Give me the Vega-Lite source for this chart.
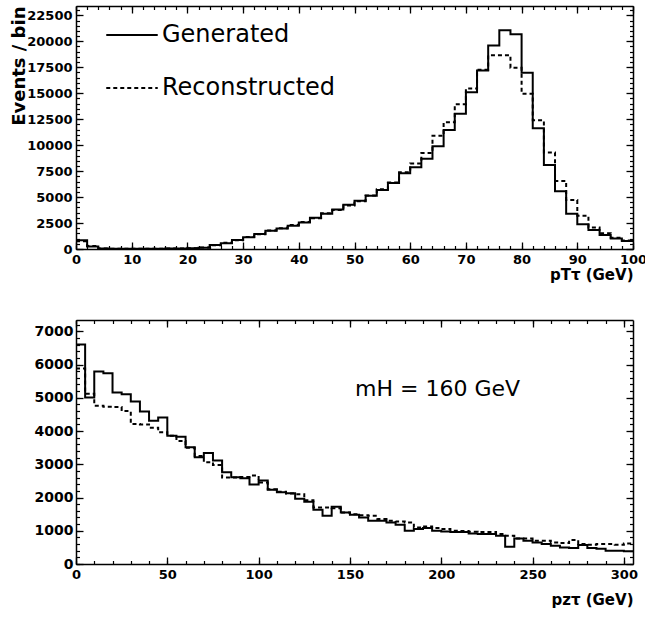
{
  "$schema": "https://vega.github.io/schema/vega-lite/v6.json",
  "padding": {"left": 10, "top": 5, "right": 8, "bottom": 5},
  "config": {"view": {"stroke": null}, "font": "DejaVu Sans", "background": "white"},
  "datasets": {
    "top": [
      {"x":0,"Generated":850,"Reconstructed":750},{"x":2,"Generated":250,"Reconstructed":300},{"x":4,"Generated":40,"Reconstructed":50},{"x":6,"Generated":20,"Reconstructed":25},{"x":8,"Generated":20,"Reconstructed":20},{"x":10,"Generated":20,"Reconstructed":20},{"x":12,"Generated":20,"Reconstructed":20},{"x":14,"Generated":30,"Reconstructed":30},{"x":16,"Generated":40,"Reconstructed":40},{"x":18,"Generated":50,"Reconstructed":60},{"x":20,"Generated":70,"Reconstructed":80},{"x":22,"Generated":120,"Reconstructed":150},{"x":24,"Generated":380,"Reconstructed":350},{"x":26,"Generated":550,"Reconstructed":600},{"x":28,"Generated":870,"Reconstructed":850},{"x":30,"Generated":1120,"Reconstructed":1150},{"x":32,"Generated":1440,"Reconstructed":1420},{"x":34,"Generated":1760,"Reconstructed":1780},{"x":36,"Generated":1980,"Reconstructed":2000},{"x":38,"Generated":2240,"Reconstructed":2300},{"x":40,"Generated":2560,"Reconstructed":2600},{"x":42,"Generated":3000,"Reconstructed":2950},{"x":44,"Generated":3400,"Reconstructed":3450},{"x":46,"Generated":3800,"Reconstructed":3750},{"x":48,"Generated":4250,"Reconstructed":4200},{"x":50,"Generated":4640,"Reconstructed":4600},{"x":52,"Generated":5120,"Reconstructed":5150},{"x":54,"Generated":5670,"Reconstructed":5750},{"x":56,"Generated":6350,"Reconstructed":6400},{"x":58,"Generated":7300,"Reconstructed":7400},{"x":60,"Generated":7880,"Reconstructed":8230},{"x":62,"Generated":8680,"Reconstructed":9250},{"x":64,"Generated":9900,"Reconstructed":10900},{"x":66,"Generated":11450,"Reconstructed":12200},{"x":68,"Generated":13020,"Reconstructed":13950},{"x":70,"Generated":15100,"Reconstructed":15450},{"x":72,"Generated":17200,"Reconstructed":17250},{"x":74,"Generated":19600,"Reconstructed":18650},{"x":76,"Generated":21060,"Reconstructed":18650},{"x":78,"Generated":20670,"Reconstructed":17450},{"x":80,"Generated":16980,"Reconstructed":14950},{"x":82,"Generated":11620,"Reconstructed":12400},{"x":84,"Generated":8100,"Reconstructed":9300},{"x":86,"Generated":5550,"Reconstructed":6550},{"x":88,"Generated":3400,"Reconstructed":4720},{"x":90,"Generated":2380,"Reconstructed":3200},{"x":92,"Generated":1840,"Reconstructed":2080},{"x":94,"Generated":1360,"Reconstructed":1520},{"x":96,"Generated":1020,"Reconstructed":1080},{"x":98,"Generated":760,"Reconstructed":820},{"x":100,"Generated":760,"Reconstructed":820}
    ],
    "bot": [
      {"x":0,"Generated":6600,"Reconstructed":5880},{"x":5,"Generated":5010,"Reconstructed":5120},{"x":10,"Generated":5790,"Reconstructed":4760},{"x":15,"Generated":5740,"Reconstructed":4730},{"x":20,"Generated":5160,"Reconstructed":4720},{"x":25,"Generated":5110,"Reconstructed":4600},{"x":30,"Generated":4890,"Reconstructed":4210},{"x":35,"Generated":4590,"Reconstructed":4200},{"x":40,"Generated":4310,"Reconstructed":4100},{"x":45,"Generated":4410,"Reconstructed":3960},{"x":50,"Generated":3860,"Reconstructed":3860},{"x":55,"Generated":3830,"Reconstructed":3700},{"x":60,"Generated":3510,"Reconstructed":3500},{"x":65,"Generated":3210,"Reconstructed":3250},{"x":70,"Generated":3340,"Reconstructed":3060},{"x":75,"Generated":3110,"Reconstructed":2980},{"x":80,"Generated":2760,"Reconstructed":2600},{"x":85,"Generated":2610,"Reconstructed":2600},{"x":90,"Generated":2580,"Reconstructed":2620},{"x":95,"Generated":2390,"Reconstructed":2660},{"x":100,"Generated":2510,"Reconstructed":2450},{"x":105,"Generated":2230,"Reconstructed":2250},{"x":110,"Generated":2160,"Reconstructed":2170},{"x":115,"Generated":2130,"Reconstructed":2120},{"x":120,"Generated":1960,"Reconstructed":2100},{"x":125,"Generated":1870,"Reconstructed":1920},{"x":130,"Generated":1630,"Reconstructed":1700},{"x":135,"Generated":1450,"Reconstructed":1700},{"x":140,"Generated":1720,"Reconstructed":1680},{"x":145,"Generated":1550,"Reconstructed":1550},{"x":150,"Generated":1480,"Reconstructed":1500},{"x":155,"Generated":1400,"Reconstructed":1470},{"x":160,"Generated":1300,"Reconstructed":1450},{"x":165,"Generated":1300,"Reconstructed":1350},{"x":170,"Generated":1250,"Reconstructed":1300},{"x":175,"Generated":1180,"Reconstructed":1280},{"x":180,"Generated":1000,"Reconstructed":1250},{"x":185,"Generated":1050,"Reconstructed":1100},{"x":190,"Generated":1080,"Reconstructed":1130},{"x":195,"Generated":1000,"Reconstructed":1080},{"x":200,"Generated":980,"Reconstructed":1050},{"x":205,"Generated":960,"Reconstructed":1000},{"x":210,"Generated":960,"Reconstructed":990},{"x":215,"Generated":920,"Reconstructed":970},{"x":220,"Generated":900,"Reconstructed":960},{"x":225,"Generated":900,"Reconstructed":960},{"x":230,"Generated":850,"Reconstructed":900},{"x":235,"Generated":520,"Reconstructed":850},{"x":240,"Generated":770,"Reconstructed":770},{"x":245,"Generated":700,"Reconstructed":770},{"x":250,"Generated":650,"Reconstructed":700},{"x":255,"Generated":600,"Reconstructed":700},{"x":260,"Generated":550,"Reconstructed":650},{"x":265,"Generated":500,"Reconstructed":630},{"x":270,"Generated":480,"Reconstructed":720},{"x":275,"Generated":570,"Reconstructed":600},{"x":280,"Generated":480,"Reconstructed":580},{"x":285,"Generated":460,"Reconstructed":600},{"x":290,"Generated":400,"Reconstructed":600},{"x":295,"Generated":400,"Reconstructed":580},{"x":300,"Generated":380,"Reconstructed":620},{"x":305,"Generated":380,"Reconstructed":620}
    ],
    "empty": []
  },
  "vconcat": [
    {
      "width": 557,
      "height": 243,
      "resolve": {"axis": {"x": "independent", "y": "independent"}},
      "layer": [
        {
          "data": {"name": "top"},
          "transform": [{"fold": ["Generated", "Reconstructed"], "as": ["s", "v"]}],
          "mark": {"type": "line", "interpolate": "step-after", "color": "black", "strokeWidth": 2},
          "encoding": {
            "x": {"field": "x", "type": "quantitative", "scale": {"domain": [0, 100], "nice": false, "zero": false},
              "axis": {"orient": "bottom", "values": [0,10,20,30,40,50,60,70,80,90,100], "ticks": false, "grid": false, "domain": true, "domainColor": "black", "domainWidth": 1.5,
                "labelFont": "DejaVu Sans", "labelFontWeight": "bold", "labelFontSize": 13, "labelColor": "black", "labelPadding": 4, "labelFlush": false, "labelOverlap": false,
                "title": "pTτ (GeV)", "titleFont": "DejaVu Sans", "titleFontSize": 15, "titleFontWeight": "bold", "titleColor": "black", "titleAnchor": "end", "titleAlign": "right", "titleX": 557, "titleY": 30, "titleBaseline": "alphabetic"}},
            "y": {"field": "v", "type": "quantitative", "scale": {"domain": [0, 23400], "nice": false},
              "axis": {"orient": "left", "values": [0,2500,5000,7500,10000,12500,15000,17500,20000,22500], "ticks": false, "grid": false, "domain": true, "domainColor": "black", "domainWidth": 1.5,
                "labelFont": "DejaVu Sans", "labelFontWeight": "bold", "labelFontSize": 13, "labelColor": "black", "labelPadding": 4, "labelFlush": false, "labelOverlap": false, "format": "d",
                "title": "Events / bin", "titleFont": "DejaVu Sans", "titleFontSize": 18, "titleFontWeight": "bold", "titleColor": "black", "titleAngle": 270, "titleAlign": "right", "titleX": -52, "titleY": 0, "titleBaseline": "alphabetic"}},
            "strokeDash": {"field": "s", "type": "nominal", "scale": {"domain": ["Generated", "Reconstructed"], "range": [[1, 0], [4, 3]]},
              "legend": {"orient": "none", "legendX": 29, "legendY": 2, "title": null, "symbolType": "stroke", "symbolSize": 2650, "symbolStrokeWidth": 2, "symbolStrokeColor": "black",
                "labelFont": "DejaVu Sans", "labelFontSize": 24, "labelColor": "black", "labelOffset": 3, "rowPadding": 14, "padding": 0, "labelLimit": 400}}
          }
        },
        {
          "data": {"name": "empty"}, "mark": "rule",
          "encoding": {
            "x": {"field": "x", "type": "quantitative", "axis": {"orient": "bottom", "values": [0,10,20,30,40,50,60,70,80,90,100], "labels": false, "domain": false, "grid": false, "tickSize": -7, "tickColor": "black", "tickWidth": 1.3, "title": null}},
            "y": {"field": "v", "type": "quantitative", "axis": {"orient": "left", "values": [0,2500,5000,7500,10000,12500,15000,17500,20000,22500], "labels": false, "domain": false, "grid": false, "tickSize": -7, "tickColor": "black", "tickWidth": 1.3, "title": null}}
          }
        },
        {
          "data": {"name": "empty"}, "mark": "rule",
          "encoding": {
            "x": {"field": "x", "type": "quantitative", "axis": {"orient": "bottom", "values": [0,2,4,6,8,10,12,14,16,18,20,22,24,26,28,30,32,34,36,38,40,42,44,46,48,50,52,54,56,58,60,62,64,66,68,70,72,74,76,78,80,82,84,86,88,90,92,94,96,98,100], "labels": false, "domain": false, "grid": false, "tickSize": -3.5, "tickColor": "black", "tickWidth": 1.2, "title": null}},
            "y": {"field": "v", "type": "quantitative", "axis": {"orient": "left", "values": [0,500,1000,1500,2000,2500,3000,3500,4000,4500,5000,5500,6000,6500,7000,7500,8000,8500,9000,9500,10000,10500,11000,11500,12000,12500,13000,13500,14000,14500,15000,15500,16000,16500,17000,17500,18000,18500,19000,19500,20000,20500,21000,21500,22000,22500,23000], "labels": false, "domain": false, "grid": false, "tickSize": -3.5, "tickColor": "black", "tickWidth": 1.2, "title": null}}
          }
        },
        {
          "data": {"name": "empty"}, "mark": "rule",
          "encoding": {
            "x": {"field": "x", "type": "quantitative", "axis": {"orient": "top", "values": [0,10,20,30,40,50,60,70,80,90,100], "labels": false, "domain": true, "domainColor": "black", "domainWidth": 1.5, "grid": false, "tickSize": -7, "tickColor": "black", "tickWidth": 1.3, "title": null}},
            "y": {"field": "v", "type": "quantitative", "axis": {"orient": "right", "values": [0,2500,5000,7500,10000,12500,15000,17500,20000,22500], "labels": false, "domain": true, "domainColor": "black", "domainWidth": 1.5, "grid": false, "tickSize": -7, "tickColor": "black", "tickWidth": 1.3, "title": null}}
          }
        },
        {
          "data": {"name": "empty"}, "mark": "rule",
          "encoding": {
            "x": {"field": "x", "type": "quantitative", "axis": {"orient": "top", "values": [0,2,4,6,8,10,12,14,16,18,20,22,24,26,28,30,32,34,36,38,40,42,44,46,48,50,52,54,56,58,60,62,64,66,68,70,72,74,76,78,80,82,84,86,88,90,92,94,96,98,100], "labels": false, "domain": false, "grid": false, "tickSize": -3.5, "tickColor": "black", "tickWidth": 1.2, "title": null}},
            "y": {"field": "v", "type": "quantitative", "axis": {"orient": "right", "values": [0,500,1000,1500,2000,2500,3000,3500,4000,4500,5000,5500,6000,6500,7000,7500,8000,8500,9000,9500,10000,10500,11000,11500,12000,12500,13000,13500,14000,14500,15000,15500,16000,16500,17000,17500,18000,18500,19000,19500,20000,20500,21000,21500,22000,22500,23000], "labels": false, "domain": false, "grid": false, "tickSize": -3.5, "tickColor": "black", "tickWidth": 1.2, "title": null}}
          }
        }
      ]
    },
    {
      "width": 557,
      "height": 244,
      "resolve": {"axis": {"x": "independent", "y": "independent"}},
      "layer": [
        {
          "data": {"name": "bot"},
          "mark": {"type": "line", "interpolate": "step-after", "color": "black", "strokeWidth": 2},
          "encoding": {
            "x": {"field": "x", "type": "quantitative", "scale": {"domain": [0, 305], "nice": false, "zero": false},
              "axis": {"orient": "bottom", "values": [0,50,100,150,200,250,300], "ticks": false, "grid": false, "domain": true, "domainColor": "black", "domainWidth": 1.5,
                "labelFont": "DejaVu Sans", "labelFontWeight": "bold", "labelFontSize": 13, "labelColor": "black", "labelPadding": 4, "labelFlush": false, "labelOverlap": false,
                "title": "pzτ (GeV)", "titleFont": "DejaVu Sans", "titleFontSize": 15, "titleFontWeight": "bold", "titleColor": "black", "titleAnchor": "end", "titleAlign": "right", "titleX": 557, "titleY": 40, "titleBaseline": "alphabetic"}},
            "y": {"field": "Generated", "type": "quantitative", "scale": {"domain": [0, 7340], "nice": false},
              "axis": {"orient": "left", "values": [0,1000,2000,3000,4000,5000,6000,7000], "ticks": false, "grid": false, "domain": true, "domainColor": "black", "domainWidth": 1.5,
                "labelFont": "DejaVu Sans", "labelFontWeight": "bold", "labelFontSize": 14, "labelColor": "black", "labelPadding": 3, "labelFlush": false, "labelOverlap": false, "format": "d", "title": null}}
          }
        },
        {
          "data": {"name": "bot"},
          "mark": {"type": "line", "interpolate": "step-after", "color": "black", "strokeWidth": 2, "strokeDash": [4, 3]},
          "encoding": {
            "x": {"field": "x", "type": "quantitative", "axis": {"orient": "bottom", "values": [0,50,100,150,200,250,300], "labels": false, "domain": false, "grid": false, "tickSize": -7, "tickColor": "black", "tickWidth": 1.3, "title": null}},
            "y": {"field": "Reconstructed", "type": "quantitative", "axis": {"orient": "left", "values": [0,1000,2000,3000,4000,5000,6000,7000], "labels": false, "domain": false, "grid": false, "tickSize": -7, "tickColor": "black", "tickWidth": 1.3, "title": null}}
          }
        },
        {
          "data": {"name": "empty"}, "mark": "rule",
          "encoding": {
            "x": {"field": "x", "type": "quantitative", "axis": {"orient": "bottom", "values": [0,10,20,30,40,50,60,70,80,90,100,110,120,130,140,150,160,170,180,190,200,210,220,230,240,250,260,270,280,290,300], "labels": false, "domain": false, "grid": false, "tickSize": -3.5, "tickColor": "black", "tickWidth": 1.2, "title": null}},
            "y": {"field": "Generated", "type": "quantitative", "axis": {"orient": "left", "values": [0,200,400,600,800,1000,1200,1400,1600,1800,2000,2200,2400,2600,2800,3000,3200,3400,3600,3800,4000,4200,4400,4600,4800,5000,5200,5400,5600,5800,6000,6200,6400,6600,6800,7000,7200], "labels": false, "domain": false, "grid": false, "tickSize": -3.5, "tickColor": "black", "tickWidth": 1.2, "title": null}}
          }
        },
        {
          "data": {"name": "empty"}, "mark": "rule",
          "encoding": {
            "x": {"field": "x", "type": "quantitative", "axis": {"orient": "top", "values": [0,50,100,150,200,250,300], "labels": false, "domain": true, "domainColor": "black", "domainWidth": 1.5, "grid": false, "tickSize": -7, "tickColor": "black", "tickWidth": 1.3, "title": null}},
            "y": {"field": "Generated", "type": "quantitative", "axis": {"orient": "right", "values": [0,1000,2000,3000,4000,5000,6000,7000], "labels": false, "domain": true, "domainColor": "black", "domainWidth": 1.5, "grid": false, "tickSize": -7, "tickColor": "black", "tickWidth": 1.3, "title": null}}
          }
        },
        {
          "data": {"name": "empty"}, "mark": "rule",
          "encoding": {
            "x": {"field": "x", "type": "quantitative", "axis": {"orient": "top", "values": [0,10,20,30,40,50,60,70,80,90,100,110,120,130,140,150,160,170,180,190,200,210,220,230,240,250,260,270,280,290,300], "labels": false, "domain": false, "grid": false, "tickSize": -3.5, "tickColor": "black", "tickWidth": 1.2, "title": null}},
            "y": {"field": "Generated", "type": "quantitative", "axis": {"orient": "right", "values": [0,200,400,600,800,1000,1200,1400,1600,1800,2000,2200,2400,2600,2800,3000,3200,3400,3600,3800,4000,4200,4400,4600,4800,5000,5200,5400,5600,5800,6000,6200,6400,6600,6800,7000,7200], "labels": false, "domain": false, "grid": false, "tickSize": -3.5, "tickColor": "black", "tickWidth": 1.2, "title": null}}
          }
        },
        {
          "data": {"values": [{"label": "mH = 160 GeV"}]},
          "mark": {"type": "text", "font": "DejaVu Sans", "fontSize": 22, "color": "black", "align": "center", "baseline": "middle"},
          "encoding": {
            "x": {"datum": 198, "type": "quantitative", "axis": null},
            "y": {"datum": 5250, "type": "quantitative", "axis": null},
            "text": {"field": "label"}
          }
        }
      ]
    }
  ],
  "spacing": 71,
  "bounds": "flush"
}
